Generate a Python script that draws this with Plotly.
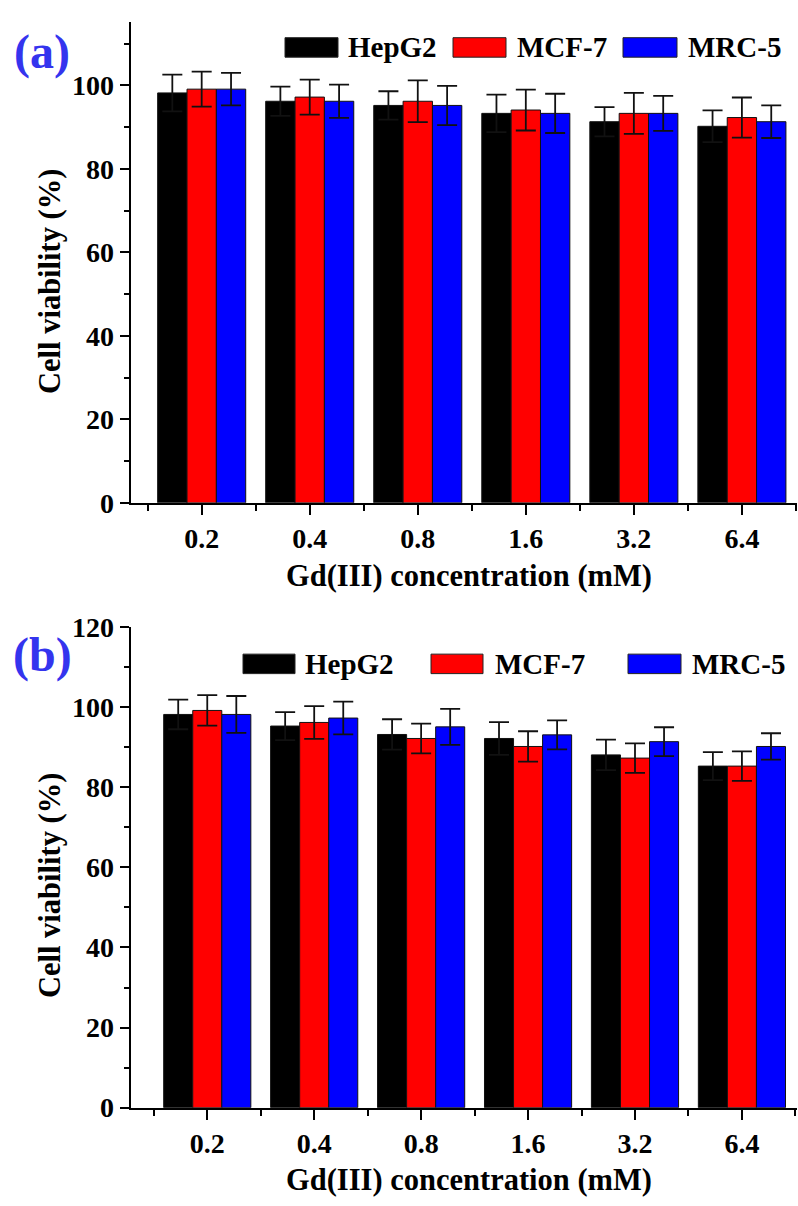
import plotly.graph_objects as go

# ---------------- data ----------------
concentrations = ["0.2", "0.4", "0.8", "1.6", "3.2", "6.4"]
series_names = ["HepG2", "MCF-7", "MRC-5"]
series_colors = ["#000000", "#ff0000", "#0000ff"]

# panel (a)
a_hepg2 = [98.2, 96.2, 95.2, 93.3, 91.3, 90.2]
a_hepg2_err = [4.4, 3.5, 3.4, 4.5, 3.5, 3.8]
a_mcf7 = [99.1, 97.2, 96.2, 94.1, 93.3, 92.3]
a_mcf7_err = [4.2, 4.2, 5.0, 4.9, 4.9, 4.8]
a_mrc5 = [99.1, 96.2, 95.2, 93.3, 93.3, 91.3]
a_mrc5_err = [3.9, 4.0, 4.7, 4.7, 4.2, 3.9]

# panel (b)
b_hepg2 = [98.2, 95.3, 93.2, 92.2, 88.1, 85.3]
b_hepg2_err = [3.7, 3.5, 3.8, 4.1, 3.8, 3.5]
b_mcf7 = [99.2, 96.2, 92.2, 90.2, 87.3, 85.3]
b_mcf7_err = [3.8, 4.1, 3.7, 3.8, 3.7, 3.7]
b_mrc5 = [98.2, 97.3, 95.1, 93.1, 91.4, 90.2]
b_mrc5_err = [4.6, 4.1, 4.5, 3.6, 3.6, 3.3]

x_title = "Gd(III) concentration (mM)"
y_title = "Cell viability (%)"
panel_labels = ["(a)", "(b)"]

# ---------------- figure ----------------
W, H = 798, 1206
FONT = "Liberation Serif"


def px(x):
    return x / W


def py(y):
    return 1 - y / H


xpos = list(range(len(concentrations)))
fig = go.Figure()

panels = [
    ("x", "y", [a_hepg2, a_mcf7, a_mrc5], [a_hepg2_err, a_mcf7_err, a_mrc5_err]),
    ("x2", "y2", [b_hepg2, b_mcf7, b_mrc5], [b_hepg2_err, b_mcf7_err, b_mrc5_err]),
]
for xa, ya, vals, errs in panels:
    for name, col, v, e in zip(series_names, series_colors, vals, errs):
        fig.add_trace(go.Bar(
            x=xpos, y=v, name=name, xaxis=xa, yaxis=ya,
            marker=dict(color=col, line=dict(color="#111111", width=1)),
            error_y=dict(type="data", array=e, visible=True, color="#111111",
                         thickness=1.8, width=10),
            showlegend=False,
        ))

axis_common = dict(
    showline=True, linecolor="black", linewidth=2, mirror=False,
    showgrid=False, zeroline=False, ticks="outside", tickcolor="black",
    tickwidth=2,
)
tickfont = dict(family=FONT, size=28, color="black", weight="bold")

xdom = [px(130.7), px(797)]
xaxis_cfg = dict(
    axis_common, domain=xdom, tickmode="array", tickvals=xpos,
    ticktext=concentrations, ticklen=10, tickfont=tickfont,
    minor=dict(ticks="outside", ticklen=6, tickwidth=2, tickcolor="black",
               tickmode="array", tickvals=[i - 0.5 for i in range(len(concentrations) + 1)],
               showgrid=False),
)
yaxis_cfg = dict(
    axis_common, tickmode="linear", tick0=0, dtick=20, ticklen=9,
    tickfont=tickfont,
    minor=dict(ticks="outside", ticklen=5, tickwidth=2, tickcolor="black",
               dtick=10, tick0=0, showgrid=False),
)

fig.update_layout(
    width=W, height=H,
    margin=dict(l=0, r=0, t=0, b=0),
    paper_bgcolor="white", plot_bgcolor="white",
    barmode="group", bargap=0.185, bargroupgap=0,
    xaxis=dict(xaxis_cfg, anchor="y", range=[-0.657, 5.51]),
    yaxis=dict(yaxis_cfg, anchor="x", domain=[py(500.7), py(6.7)], range=[0, 115.3]),
    xaxis2=dict(xaxis_cfg, anchor="y2", range=[-0.716, 5.515]),
    yaxis2=dict(yaxis_cfg, anchor="x2", domain=[py(1121.5), py(628.3)], range=[0, 120]),
    showlegend=False,
)

annotations = []
shapes = []

# axis titles
for ycenter_title, ycenter_x in [(274, 576), (894, 1196)]:
    annotations.append(dict(
        text=y_title, xref="paper", yref="paper", x=px(50), y=py(ycenter_title),
        xanchor="center", yanchor="middle", textangle=-90, showarrow=False,
        font=dict(family=FONT, size=30.5, color="black", weight="bold")))
    annotations.append(dict(
        text=x_title, xref="paper", yref="paper", x=px(469), y=py(ycenter_x),
        xanchor="center", yanchor="middle", showarrow=False,
        font=dict(family=FONT, size=30.5, color="black", weight="bold")))

# panel labels
for lab, yc in zip(panel_labels, [38, 657]):
    annotations.append(dict(
        text=lab, xref="paper", yref="paper", x=px(42), y=py(yc),
        xanchor="center", yanchor="middle", showarrow=False,
        font=dict(family=FONT, size=48, color="#3434ee", weight="bold")))

# manual legends (swatch left, swatch right, text left) per panel
legend_layouts = [
    (33.3, 20, [(285, 338, 346), (453, 506, 515), (623, 677, 686)]),
    (666, 20, [(243, 295, 303), (431, 483, 493), (628, 681, 690)]),
]
for yc, hgt, items in legend_layouts:
    for (x0, x1, xt), name, col in zip(items, series_names, series_colors):
        shapes.append(dict(
            type="rect", xref="paper", yref="paper",
            x0=px(x0), x1=px(x1), y0=py(yc + hgt / 2), y1=py(yc - hgt / 2),
            fillcolor=col, line=dict(color="#222222", width=1)))
        annotations.append(dict(
            text=name, xref="paper", yref="paper", x=px(xt), y=py(yc),
            xanchor="left", yanchor="middle", showarrow=False,
            font=dict(family=FONT, size=29, color="black", weight="bold")))

fig.update_layout(annotations=annotations, shapes=shapes)
fig.write_html(
    "out.html",
    config={"displayModeBar": False},
    post_script="document.body.style.margin='0';document.body.style.overflow='hidden';",
)
